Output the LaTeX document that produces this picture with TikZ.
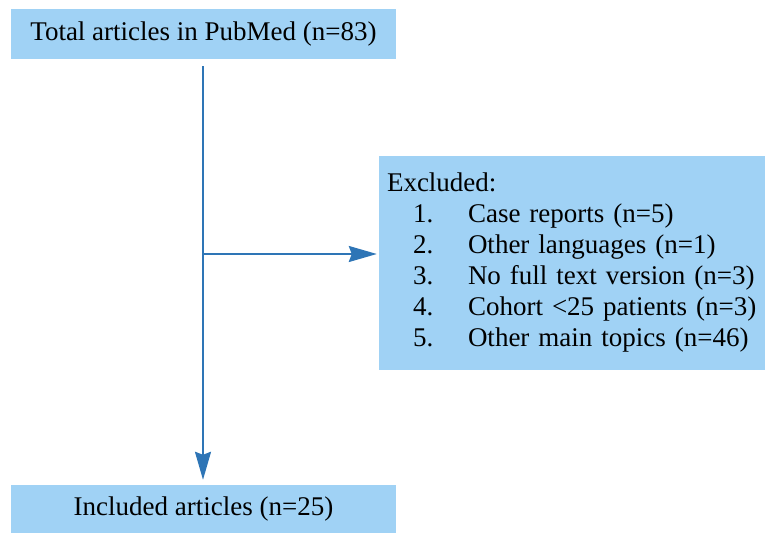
\documentclass[tikz,border=0pt]{standalone}
\usepackage{fontspec}
\setmainfont{Liberation Serif}
\usetikzlibrary{arrows.meta,calc,positioning}
\definecolor{boxblue}{RGB}{160,210,245}
\definecolor{arrowblue}{RGB}{46,117,182}
\tikzset{
    flow diagram/.style = {x=1pt, y=-1pt,
                           >={Stealth[length=28pt, width=16pt, inset=3pt]}},
    line/.style         = {draw=arrowblue, line width=2pt},
    block/.style        = {fill=boxblue, inner sep=0pt,
                           font=\fontsize{27}{31}\selectfont},
    wideblock/.style    = {block, minimum width=385pt, minimum height=50pt},
    listblock/.style    = {block, minimum width=386pt, minimum height=214pt,
                           text width=370pt, align=left}
}
\newcommand{\excl}[2]{\hspace*{26pt}\makebox[55pt][l]{#1}#2}

\begin{document}
\begin{tikzpicture}[flow diagram]
\useasboundingbox (0,0) rectangle (765,534);

% Records identified and records kept.
\node[wideblock] (total) at (203.5,34) {Total articles in PubMed (n=83)};
\node[wideblock, minimum height=48pt] (included) at (203.5,509)
    {Included articles (n=25)};

% Reasons for exclusion.
\node[listblock] (excluded) at (572,263) {Excluded:\\
    \excl{1.}{Case reports (n=5)}\\
    \excl{2.}{Other languages (n=1)}\\
    \excl{3.}{No full text version (n=3)}\\
    \excl{4.}{Cohort <25 patients (n=3)}\\
    \excl{5.}{Other main topics (n=46)}};

% Main flow with the branch to the exclusions.
\coordinate (start) at ($(total.south)+(-0.5,7)$);
\coordinate (branch) at (203,254);
\draw[->, line, shorten >=5pt] (start) -- (start |- included.north);
\draw[->, line, shorten >=2pt] (branch) -- (branch -| excluded.west);

\end{tikzpicture}
\end{document}
